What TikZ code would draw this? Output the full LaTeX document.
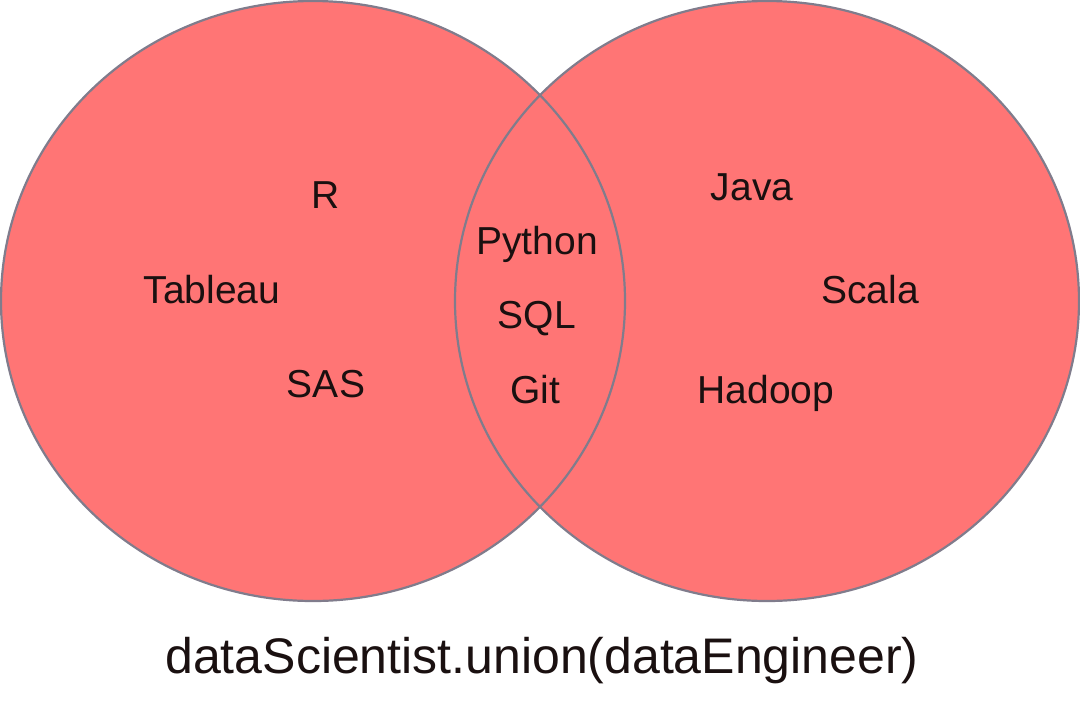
\documentclass[tikz,border=0pt]{standalone}
\usepackage{fontspec}
\setmainfont{Liberation Sans}
\definecolor{vennfill}{RGB}{255,117,117}
\definecolor{vennline}{RGB}{128,124,140}
\definecolor{txt}{RGB}{26,16,16}
\begin{document}
\begin{tikzpicture}[x=1pt,y=-1pt,
  lbl/.style={anchor=base,inner sep=0pt,text=txt,font=\fontsize{39}{44}\selectfont},
  ttl/.style={anchor=base,inner sep=0pt,text=txt,font=\fontsize{50}{56}\selectfont}]
\useasboundingbox (0,0) rectangle (1080,715);
\fill[vennfill] (313,301) ellipse [x radius=312, y radius=300];
\fill[vennfill] (767,301) ellipse [x radius=312, y radius=300];
\draw[vennline,line width=2.2pt] (313,301) ellipse [x radius=312, y radius=300];
\draw[vennline,line width=2.2pt] (767,301) ellipse [x radius=312, y radius=300];
\node[lbl] (r) at (326,208) {R};
\node[lbl] (tableau) at (212,303) {Tableau};
\node[lbl] (sas) at (326,397) {SAS};
\node[lbl] (python) at (537,254) {Python};
\node[lbl] (sql) at (537,328) {SQL};
\node[lbl] (git) at (535,403) {Git};
\node[lbl] (java) at (752,200) {Java};
\node[lbl] (scala) at (870,303) {Scala};
\node[lbl] (hadoop) at (766,403) {Hadoop};
\node[ttl] (title) at (542,673) {dataScientist.union(dataEngineer)};
\end{tikzpicture}
\end{document}
